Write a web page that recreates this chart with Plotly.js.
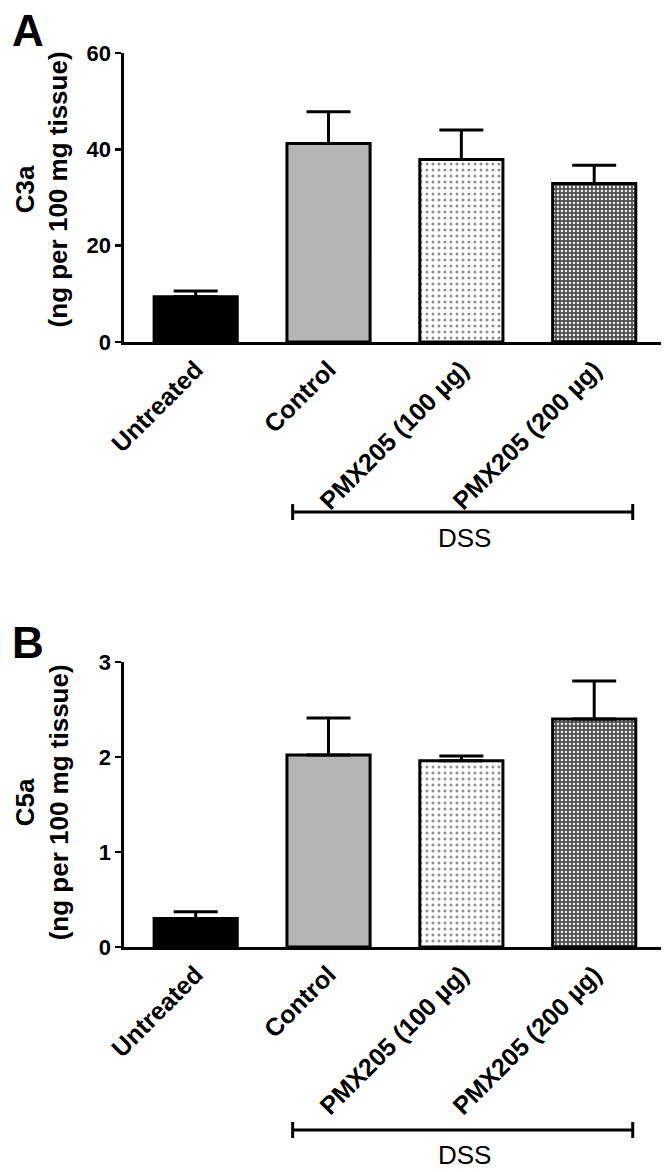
<!DOCTYPE html>
<html>
<head>
<meta charset="utf-8">
<script src="https://cdn.plot.ly/plotly-3.0.1.min.js"></script>
<style>html,body{margin:0;padding:0;background:#fff;}#chart{width:670px;height:1172px;}</style>
</head>
<body>
<div id="chart"></div>
<script>
const categories = ['Untreated', 'Control', 'PMX205 (100 µg)', 'PMX205 (200 µg)'];
const c3aMean = [9.4, 41.2, 37.9, 32.9];
const c3aSEM = [1.2, 6.6, 6.1, 3.8];
const c5aMean = [0.30, 2.02, 1.96, 2.40];
const c5aSEM = [0.07, 0.39, 0.05, 0.40];
const c3aTicks = [0, 20, 40, 60];
const c5aTicks = [0, 1, 2, 3];
const groupLabel = 'DSS';

const FONT = 'Liberation Sans, Arial, sans-serif';
// per-category fill style
const fills = [
  {color: '#000000'},
  {color: '#b4b4b4'},
  {color: '#ffffff', pattern: {shape: '.', bgcolor: '#ffffff', fgcolor: '#8c8c8c', size: 6, solidity: 0.2, fillmode: 'replace'}},
  {color: '#505050', pattern: {shape: '.', bgcolor: '#4e4e4e', fgcolor: '#f2f2f2', size: 4, solidity: 0.3, fillmode: 'replace'}}
];

function panelTraces(y, err, xa, ya) {
  return categories.map((c, i) => ({
    type: 'bar', x: [c], y: [y[i]], xaxis: xa, yaxis: ya,
    marker: Object.assign({line: {color: '#000', width: 3}}, JSON.parse(JSON.stringify(fills[i]))),
    error_y: {type: 'data', array: [err[i]], arrayminus: [0], symmetric: false,
              color: '#000', thickness: 3, width: 22},
    showlegend: false
  }));
}
const data = panelTraces(c3aMean, c3aSEM, 'x', 'y').concat(panelTraces(c5aMean, c5aSEM, 'x2', 'y2'));

const xCommon = {
  type: 'category', categoryarray: categories, categoryorder: 'array',
  range: [-0.54, 3.505], domain: [0.185, 0.987],
  showline: true, linecolor: '#000', linewidth: 3, ticks: '', showgrid: false, zeroline: false,
  tickangle: -45, tickfont: {family: FONT, size: 25, color: '#000', weight: 'bold'}, automargin: false
};
const yCommon = {
  showline: true, linecolor: '#000', linewidth: 2.5, ticks: 'outside', ticklen: 6, tickwidth: 2.5,
  tickcolor: '#000', showgrid: false, zeroline: false, automargin: false,
  tickfont: {family: FONT, size: 22, color: '#000', weight: 'bold'}
};

function bracket(yPaper, xref) {
  const x0 = 1 - 0.27, x1 = 3 + 0.29, cap = 0.0068;
  const ln = {color: '#000', width: 3};
  return [
    {type: 'line', xref: xref, yref: 'paper', x0: x0, x1: x1, y0: yPaper, y1: yPaper, line: ln},
    {type: 'line', xref: xref, yref: 'paper', x0: x0, x1: x0, y0: yPaper - cap, y1: yPaper + cap, line: ln},
    {type: 'line', xref: xref, yref: 'paper', x0: x1, x1: x1, y0: yPaper - cap, y1: yPaper + cap, line: ln}
  ];
}

const layout = {
  width: 670, height: 1172,
  margin: {l: 0, r: 0, t: 0, b: 0},
  paper_bgcolor: '#fff', plot_bgcolor: '#fff',
  barmode: 'overlay',
  bargap: 0.374,
  xaxis: Object.assign({}, xCommon, {anchor: 'y'}),
  yaxis: Object.assign({}, yCommon, {domain: [0.7082, 0.9548], range: [0, 60], tickvals: c3aTicks, anchor: 'x'}),
  xaxis2: Object.assign({}, xCommon, {anchor: 'y2'}),
  yaxis2: Object.assign({}, yCommon, {domain: [0.192, 0.4352], range: [0, 3], tickvals: c5aTicks, anchor: 'x2'}),
  shapes: bracket(0.5631, 'x').concat(bracket(0.0358, 'x2')),
  annotations: [
    {text: 'A', xref: 'paper', yref: 'paper', x: 0.015, y: 0.997, xanchor: 'left', yanchor: 'top', showarrow: false,
     font: {family: FONT, size: 44, color: '#000', weight: 'bold'}},
    {text: 'B', xref: 'paper', yref: 'paper', x: 0.015, y: 0.474, xanchor: 'left', yanchor: 'top', showarrow: false,
     font: {family: FONT, size: 44, color: '#000', weight: 'bold'}},
    {text: 'C3a<br>(ng per 100 mg tissue)', xref: 'paper', yref: 'paper', x: 0.062, y: 0.838,
     xanchor: 'center', yanchor: 'middle', textangle: -90,
     showarrow: false, font: {family: FONT, size: 26, color: '#000', weight: 'bold'}},
    {text: 'C5a<br>(ng per 100 mg tissue)', xref: 'paper', yref: 'paper', x: 0.062, y: 0.315,
     xanchor: 'center', yanchor: 'middle', textangle: -90,
     showarrow: false, font: {family: FONT, size: 26, color: '#000', weight: 'bold'}},
    {text: groupLabel, xref: 'x', yref: 'paper', x: 2.02, y: 0.5555, xanchor: 'center', yanchor: 'top', showarrow: false,
     font: {family: FONT, size: 26, color: '#000'}},
    {text: groupLabel, xref: 'x2', yref: 'paper', x: 2.02, y: 0.029, xanchor: 'center', yanchor: 'top', showarrow: false,
     font: {family: FONT, size: 26, color: '#000'}}
  ]
};
Plotly.newPlot('chart', data, layout, {staticPlot: true});
</script>
</body>
</html>
